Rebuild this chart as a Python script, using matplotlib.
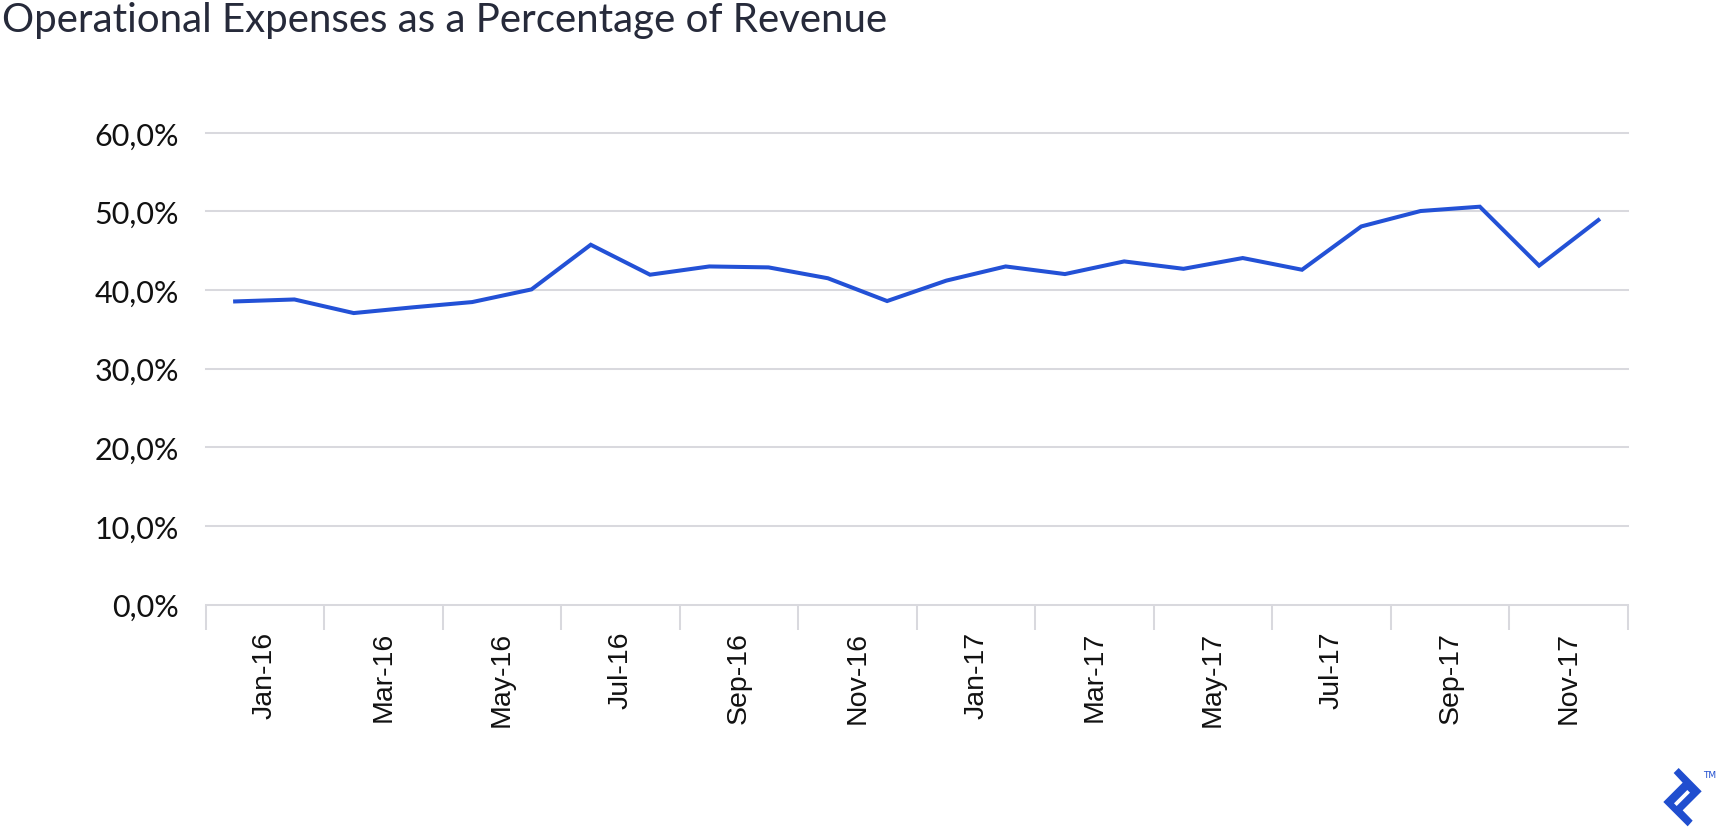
import numpy as np
import matplotlib
matplotlib.use("Agg")
import matplotlib.pyplot as plt
from matplotlib.patches import Polygon
from matplotlib.ticker import FixedLocator, FuncFormatter

# ---- data ----
months = ["Jan-16", "Feb-16", "Mar-16", "Apr-16", "May-16", "Jun-16",
          "Jul-16", "Aug-16", "Sep-16", "Oct-16", "Nov-16", "Dec-16",
          "Jan-17", "Feb-17", "Mar-17", "Apr-17", "May-17", "Jun-17",
          "Jul-17", "Aug-17", "Sep-17", "Oct-17", "Nov-17", "Dec-17"]
opex_pct = [38.55, 38.8, 37.07, 37.8, 38.47, 40.08,
            45.76, 41.95, 43.0, 42.88, 41.5, 38.6,
            41.2, 43.0, 42.03, 43.64, 42.7, 44.07,
            42.58, 48.09, 50.05, 50.6, 43.1, 48.9]
y_ticks = [0, 10, 20, 30, 40, 50, 60]
title = "Operational Expenses as a Percentage of Revenue"

W, H = 1720, 828
fig = plt.figure(figsize=(W / 100, H / 100), dpi=100)
fig.patch.set_facecolor("white")

left, right = 205.5, 1628
bottom_px, top_px = 605.5, 133.8
ax = fig.add_axes([left / W, 1 - bottom_px / H, (right - left) / W, (bottom_px - top_px) / H])

n = len(months)
x = np.arange(n) + 0.5
ax.plot(x, opex_pct, color="#2351D6", lw=2.9, solid_joinstyle="miter", zorder=3, clip_on=False)

ax.set_xlim(0, n)
ax.set_ylim(0, 60)

grid_c = "#D9D9DE"
ax.set_yticks(y_ticks)
ax.yaxis.set_major_formatter(FuncFormatter(lambda v, p: f"{v:.1f}".replace(".", ",") + "%"))
for v in y_ticks[1:]:
    ax.axhline(v, color=grid_c, lw=1.45, zorder=1, clip_on=False)
ax.tick_params(axis="y", length=0, pad=19, labelsize=22, labelcolor="#111111")
for lab in ax.get_yticklabels():
    lab.set_fontfamily("Lato")

# x axis: boundary ticks every 2 months, labels centered between them
ax.xaxis.set_major_locator(FixedLocator(np.arange(0, n + 1, 2)))
ax.xaxis.set_major_formatter(FuncFormatter(lambda v, p: ""))
ax.xaxis.set_minor_locator(FixedLocator(np.arange(1, n, 2)))
ax.set_xticklabels(months[0::2], minor=True, rotation=90, fontsize=20.5,
                   fontfamily="Liberation Sans", color="#111111")
ax.tick_params(axis="x", which="major", length=18, width=1.45, color=grid_c, direction="out")
ax.tick_params(axis="x", which="minor", length=0, pad=19)

for s in ["top", "right", "left"]:
    ax.spines[s].set_visible(False)
ax.spines["bottom"].set_color(grid_c)
ax.spines["bottom"].set_linewidth(1.45)
ax.spines["bottom"].set_zorder(1)

fig.text(2 / W, 1 - 32 / H, title, fontsize=29, fontfamily="Lato",
         color="#262A3A", ha="left", va="baseline")

# logo (decoration)
def to_fig(pts):
    return [((1600 + zx / 3) / W, 1 - (740 + zy / 3) / H) for zx, zy in pts]

outer = [(236, 87), (305, 157), (248, 214), (278, 245), (263, 262),
         (190, 189), (248, 131), (221, 102)]
slot = [(222, 193), (262, 153), (270, 161), (230, 201)]
fig.patches.append(Polygon(to_fig(outer), closed=True, transform=fig.transFigure,
                           facecolor="#204ECF", edgecolor="none"))
fig.patches.append(Polygon(to_fig(slot), closed=True, transform=fig.transFigure,
                           facecolor="white", edgecolor="none"))
fig.text(1703 / W, 1 - 778 / H, "TM", fontsize=6.5, color="#204ECF", ha="left", va="baseline")

fig.savefig("out.png", dpi=100, facecolor="white")
